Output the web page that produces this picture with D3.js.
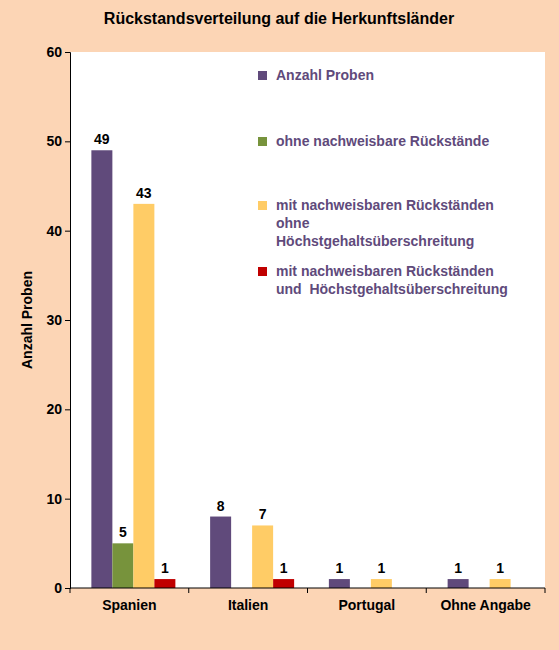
<!DOCTYPE html>
<html><head><meta charset="utf-8">
<script src="https://cdn.jsdelivr.net/npm/d3@7"></script>
<style>body{margin:0;background:#fcd5b5}text{font-family:Arial,"Liberation Sans",sans-serif;font-weight:bold}</style>
</head><body><svg id="c" width="559" height="650"></svg>
<script>
const categories=["Spanien","Italien","Portugal","Ohne Angabe"];
const seriesNames=["Anzahl Proben","ohne nachweisbare Rückstände","mit nachweisbaren Rückständen ohne Höchstgehaltsüberschreitung","mit nachweisbaren Rückständen und  Höchstgehaltsüberschreitung"];
const anzahl=[49,8,1,1];
const ohne=[5,0,0,0];
const mitOhne=[43,7,1,1];
const mitUeber=[1,1,0,0];
const yTicks=[0,10,20,30,40,50,60];
const colors=["#604a7b","#77933c","#ffcc66","#c00000"];
const series=[anzahl,ohne,mitOhne,mitUeber];
const svg=d3.select("#c");
svg.append("rect").attr("width",559).attr("height",650).attr("fill","#fcd5b5");
const L=70,R=545,T=52,B=588;
svg.append("rect").attr("x",L).attr("y",T).attr("width",R-L).attr("height",B-T).attr("fill","#fff");
const x=d3.scaleBand().domain(categories).range([L,R]);
const y=d3.scaleLinear().domain([0,60]).range([B,T]);
const bw=21;
series.forEach((s,si)=>{
  s.forEach((v,ci)=>{
    if(!v)return;
    const cx=x(categories[ci])+x.bandwidth()/2-38+si*bw;
    svg.append("rect").attr("x",cx).attr("y",y(v)).attr("width",bw).attr("height",B-y(v)).attr("fill",colors[si]);
    svg.append("text").attr("x",cx+bw/2).attr("y",y(v)-6).attr("text-anchor","middle").attr("font-size",14).text(v);
  });
});
const ya=svg.append("g").attr("transform",`translate(${L},0)`).call(d3.axisLeft(y).tickValues(yTicks).tickSize(5));
ya.selectAll("text").attr("font-size",14).attr("fill","#000").style("font-weight","bold");
const xa=svg.append("g").attr("transform",`translate(0,${B})`).call(d3.axisBottom(x).tickSize(0).tickPadding(12));
xa.selectAll("text").attr("font-size",14).attr("fill","#000").style("font-weight","bold");
xa.select(".domain").attr("d",`M${L},0H${R}`);
categories.concat([null]).forEach((c,i)=>{const xx=L+i*x.bandwidth();svg.append("line").attr("x1",xx).attr("x2",xx).attr("y1",B).attr("y2",B+5).attr("stroke","#000");});
svg.append("text").attr("x",279).attr("y",24).attr("text-anchor","middle").attr("font-size",16).text("Rückstandsverteilung auf die Herkunftsländer");
svg.append("text").attr("transform","translate(32,320) rotate(-90)").attr("text-anchor","middle").attr("font-size",14).text("Anzahl Proben");
const leg=[[75,["Anzahl Proben"]],[141,["ohne nachweisbare Rückstände"]],[205,["mit nachweisbaren Rückständen","ohne","Höchstgehaltsüberschreitung"]],[271,["mit nachweisbaren Rückständen","und  Höchstgehaltsüberschreitung"]]];
leg.forEach((l,i)=>{
  svg.append("rect").attr("x",258).attr("y",l[0]-4).attr("width",9).attr("height",9).attr("fill",colors[i]);
  l[1].forEach((t,j)=>svg.append("text").attr("x",276).attr("y",l[0]+5+j*18).attr("font-size",14).attr("fill","#604a7b").style("white-space","pre").text(t));
});
</script></body></html>
